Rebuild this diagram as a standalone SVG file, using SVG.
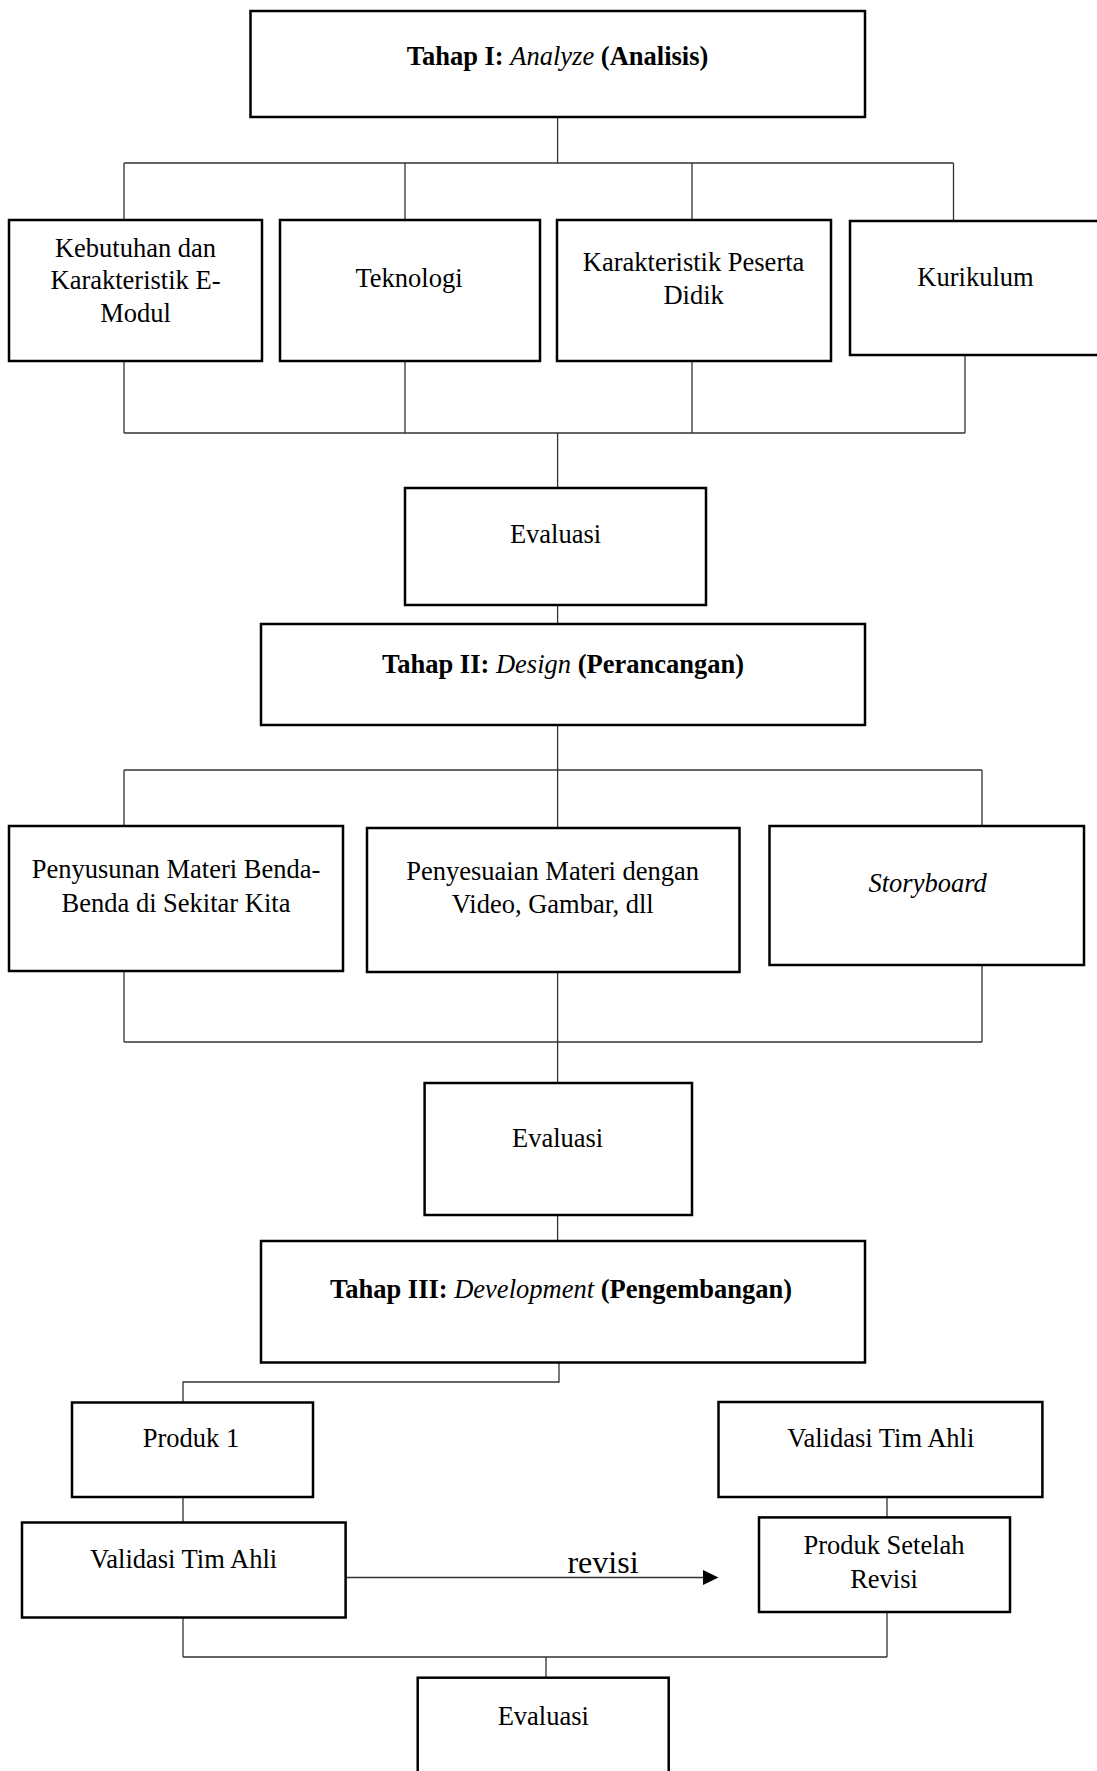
<svg xmlns="http://www.w3.org/2000/svg" width="1097" height="1771" viewBox="0 0 1097 1771">
<style>
.box{fill:#fff;stroke:#000;stroke-width:2.5}
.ln{fill:none;stroke:#333;stroke-width:1.3}
text{font-family:"Liberation Serif","Times New Roman",serif;font-size:26.5px;fill:#000;text-anchor:middle}
.b{font-weight:bold}
.i{font-style:italic}
.rv{font-size:32px}
</style>
<rect width="1097" height="1771" fill="#fff"/>
<g id="connectors">
<path class="ln" d="M557.6 117V163M124 163H953.5M124 163V220M405 163V220M692 163V220M953.5 163V220"/>
<path class="ln" d="M124 361V433M405 361V433M692 361V433M965 355V433M124 433H965M557.6 433V488"/>
<path class="ln" d="M557.6 605V624"/>
<path class="ln" d="M557.6 725V828M124 770H982M124 770V826M982 770V826"/>
<path class="ln" d="M124 971V1042M982 965V1042M124 1042H982M557.6 972V1083"/>
<path class="ln" d="M557.6 1215V1241"/>
<path class="ln" d="M559 1362.5V1382H183V1402.5"/>
<path class="ln" d="M183 1497V1522.5M887 1497V1517.4"/>
<path class="ln" d="M345.6 1577.5H704" stroke-width="1.6"/>
<polygon points="703,1570 718.5,1577.5 703,1585" fill="#000"/>
<path class="ln" d="M183 1617.5V1657M887 1612V1657M183 1657H887M546 1657V1677.7"/>
</g>
<g id="n1"><rect class="box" x="250.5" y="11" width="614.5" height="106"/>
<text x="557.5" y="65" class="b">Tahap I: <tspan class="i" font-weight="normal">Analyze</tspan> (Analisis)</text></g>
<g id="n2"><rect class="box" x="9" y="220" width="253" height="141"/>
<text x="135.5" y="257">Kebutuhan dan</text><text x="135.5" y="289">Karakteristik E-</text><text x="135.5" y="322">Modul</text></g>
<g id="n3"><rect class="box" x="280" y="220" width="260" height="141"/>
<text x="409" y="287">Teknologi</text></g>
<g id="n4"><rect class="box" x="557" y="220" width="274" height="141"/>
<text x="693.6" y="271">Karakteristik Peserta</text><text x="693.6" y="304">Didik</text></g>
<g id="n5"><rect class="box" x="850" y="221" width="252" height="134"/>
<text x="975.5" y="286">Kurikulum</text></g>
<g id="n6"><rect class="box" x="405" y="488" width="301" height="117"/>
<text x="555.5" y="543">Evaluasi</text></g>
<g id="n7"><rect class="box" x="261" y="624" width="604" height="101"/>
<text x="563" y="673" class="b">Tahap II: <tspan class="i" font-weight="normal">Design</tspan> (Perancangan)</text></g>
<g id="n8"><rect class="box" x="9" y="826" width="334" height="145"/>
<text x="176" y="878">Penyusunan Materi Benda-</text><text x="176" y="912">Benda di Sekitar Kita</text></g>
<g id="n9"><rect class="box" x="367" y="828" width="372.5" height="144"/>
<text x="552.7" y="880">Penyesuaian Materi dengan</text><text x="552.7" y="913">Video, Gambar, dll</text></g>
<g id="n10"><rect class="box" x="769.5" y="826" width="314.5" height="139"/>
<text x="927.6" y="892" class="i">Storyboard</text></g>
<g id="n11"><rect class="box" x="424.6" y="1083" width="267.4" height="132"/>
<text x="557.6" y="1147">Evaluasi</text></g>
<g id="n12"><rect class="box" x="261" y="1241" width="604" height="121.5"/>
<text x="561" y="1298" class="b">Tahap III: <tspan class="i" font-weight="normal">Development</tspan> (Pengembangan)</text></g>
<g id="n13"><rect class="box" x="72" y="1402.5" width="241" height="94.5"/>
<text x="191" y="1447.4">Produk 1</text></g>
<g id="n14"><rect class="box" x="22" y="1522.5" width="323.6" height="95"/>
<text x="183.6" y="1567.5">Validasi Tim Ahli</text></g>
<g id="n15"><rect class="box" x="718.5" y="1402" width="323.9" height="95"/>
<text x="880.8" y="1446.7">Validasi Tim Ahli</text></g>
<g id="n16"><rect class="box" x="759" y="1517.4" width="251" height="94.6"/>
<text x="884" y="1554.4">Produk Setelah</text><text x="884" y="1587.8">Revisi</text></g>
<g id="n17"><rect class="box" x="417.7" y="1677.7" width="251" height="120"/>
<text x="543.3" y="1725">Evaluasi</text></g>
<g id="lbl"><text x="603" y="1572.7" class="rv">revisi</text></g>
</svg>
